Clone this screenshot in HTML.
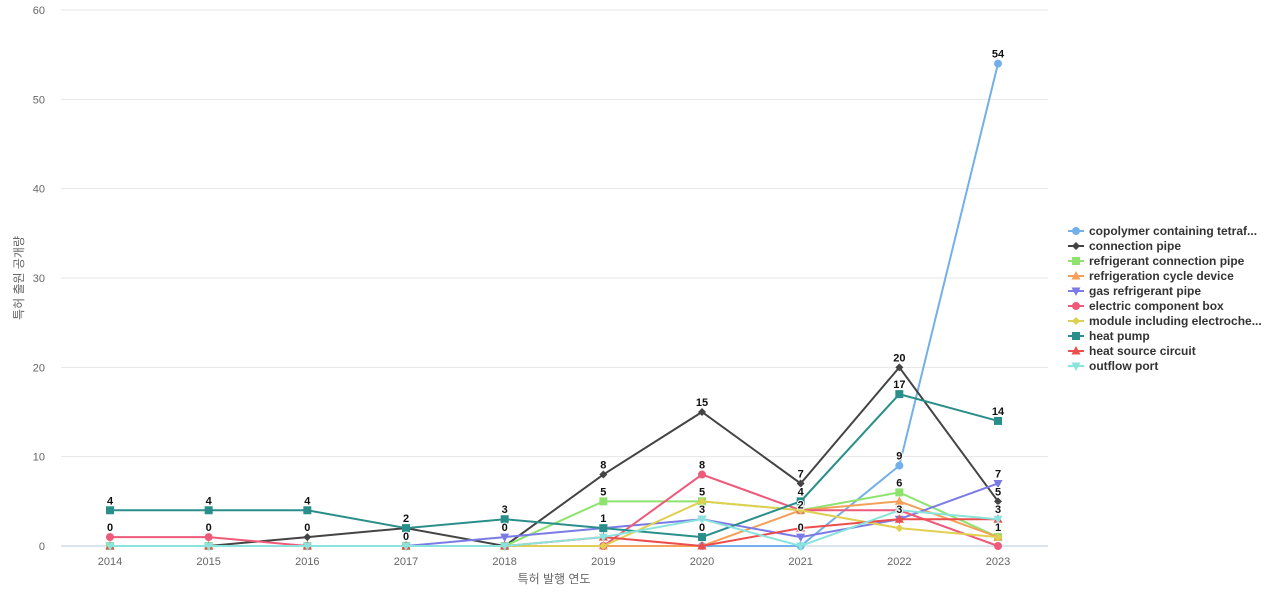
<!DOCTYPE html>
<html><head><meta charset="utf-8"><style>
body{margin:0;background:#fff;font-family:"Liberation Sans","Noto Sans CJK KR",sans-serif;}
svg text{font-family:"Liberation Sans","Noto Sans CJK KR",sans-serif;}
</style></head><body>
<svg id="c" width="1280" height="600"></svg>
<script>
const years=[2014,2015,2016,2017,2018,2019,2020,2021,2022,2023];
const yTicks=[0,10,20,30,40,50,60];
const names=["copolymer containing tetraf...","connection pipe","refrigerant connection pipe","refrigeration cycle device","gas refrigerant pipe","electric component box","module including electroche...","heat pump","heat source circuit","outflow port"];
const colors=["#73b0ea","#444444","#8de36e","#f5a05a","#7b7be6","#ee5a7a","#e0cf50","#2a8f8a","#ec4d4d","#8ae3dc"];
const markers=["circle","diamond","square","triangle","tdown","circle","diamond","square","triangle","tdown"];
const s0=[0,0,0,0,0,0,0,0,9,54];
const s1=[null,0,1,2,0,8,15,7,20,5];
const s2=[0,0,0,0,0,5,5,4,6,1];
const s3=[0,0,0,0,0,0,0,4,5,1];
const s4=[null,null,null,0,1,2,3,1,3,7];
const s5=[1,1,0,0,0,0,8,4,4,0];
const s6=[0,0,0,0,0,0,5,4,2,1];
const s7=[4,4,4,2,3,2,1,5,17,14];
const s8=[0,0,0,0,0,1,0,2,3,3];
const s9=[0,0,0,0,0,1,3,0,4,3];
const series=[s0,s1,s2,s3,s4,s5,s6,s7,s8,s9];
const labelYear=[2014,2014,2015,2015,2016,2016,2017,2017,2018,2018,2019,2019,2019,2020,2020,2020,2020,2020,2021,2021,2021,2021,2022,2022,2022,2022,2022,2023,2023,2023,2023,2023,2023];
const labelVal=[4,1,4,1,4,1,2,0,3,1,8,5,2,15,8,5,3,1,7,5,3.5,1,20,17,9,6,3,54,14,7,5,3,1];
const labelText=["4","0","4","0","4","0","2","0","3","0","8","5","1","15","8","5","3","0","7","4","2","0","20","17","9","6","3","54","14","7","5","3","1"];
const NS="http://www.w3.org/2000/svg";
const svg=document.getElementById('c');
const L=61,R=1048,T=10,B=546;
const x=y=>110+(y-2014)*(998-110)/9;
const yv=v=>B-v*(B-T)/60;
function mk(t,a,p){const e=document.createElementNS(NS,t);for(const k in a)e.setAttribute(k,a[k]);(p||svg).appendChild(e);return e;}
yTicks.forEach(t=>{
 const g=mk('line',{x1:L,x2:R,y1:yv(t),y2:yv(t),stroke:t===0?'#b8c8e0':'#e6e6e6'});
 
 
 const tx=mk('text',{x:45,y:yv(t)+4,'text-anchor':'end','font-size':11,fill:'#666'});tx.textContent=t;
 
 
});
years.forEach(yr=>{
 const tx=mk('text',{x:x(yr),y:565,'text-anchor':'middle','font-size':11,fill:'#666'});tx.textContent=yr;
 
 
});
const xt=mk('text',{x:554,y:583,'text-anchor':'middle','font-size':12,fill:'#666'});xt.textContent='특허 발행 연도';


const yt=mk('text',{x:0,y:0,'text-anchor':'middle','font-size':12,fill:'#666',transform:'translate(23,278) rotate(-90)'});yt.textContent='특허 출원 공개량';


function marker(type,cx,cy,c,p){
 if(type==='circle')return mk('circle',{cx,cy,r:4,fill:c},p);
 if(type==='square')return mk('rect',{x:cx-4,y:cy-4,width:8,height:8,fill:c},p);
 if(type==='diamond')return mk('polygon',{points:`${cx},${cy-4} ${cx+4},${cy} ${cx},${cy+4} ${cx-4},${cy}`,fill:c},p);
 if(type==='triangle')return mk('polygon',{points:`${cx},${cy-5} ${cx+4.5},${cy+3.5} ${cx-4.5},${cy+3.5}`,fill:c},p);
 return mk('polygon',{points:`${cx},${cy+5} ${cx+4.5},${cy-3.5} ${cx-4.5},${cy-3.5}`,fill:c},p);
}
series.forEach((s,i)=>{
 const g=mk('g',{});
 
 
 let d='';let st=true;
 s.forEach((v,j)=>{if(v===null){st=true;return;}d+=(st?'M':'L')+x(years[j])+','+yv(v);st=false;});
 mk('path',{d,fill:'none',stroke:colors[i],'stroke-width':2},g);
 s.forEach((v,j)=>{if(v===null)return;const m=marker(markers[i],x(years[j]),yv(v),colors[i],g);
  
  });
});
labelText.forEach((t,i)=>{
 const tx=mk('text',{x:x(labelYear[i]),y:yv(labelVal[i])-6,'text-anchor':'middle','font-size':11,'font-weight':'bold',fill:'#111',stroke:'#fff','stroke-width':2,'paint-order':'stroke'});
 tx.textContent=t;
 
 
});
names.forEach((n,i)=>{
 const g=mk('g',{});
 
 
 const cy=231+i*15;
 mk('line',{x1:1068,x2:1084,y1:cy,y2:cy,stroke:colors[i],'stroke-width':2},g);
 marker(markers[i],1076,cy,colors[i],g);
 const tx=mk('text',{x:1089,y:cy+4,'font-size':12,'font-weight':'bold',fill:'#333'},g);tx.textContent=n;
});
</script>
</body></html>
